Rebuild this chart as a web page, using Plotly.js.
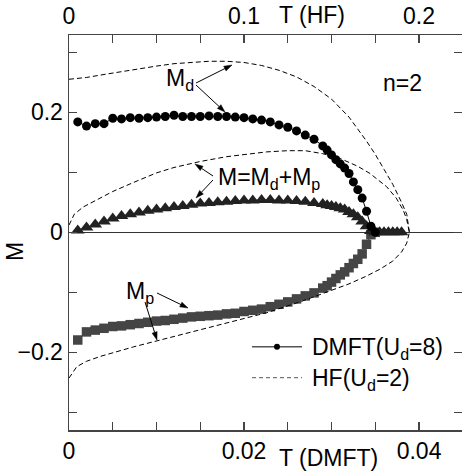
<!DOCTYPE html>
<html>
<head>
<meta charset="utf-8">
<script src="https://cdn.plot.ly/plotly-3.0.1.min.js"></script>
<style>html,body{margin:0;padding:0;background:#fff;}#chart{width:462px;height:475px;}</style>
</head>
<body>
<div id="chart"></div>
<script>
// DMFT (U_d = 8) temperatures (bottom axis)
const T_dmft = [0.001,0.002,0.003,0.004,0.005,0.006,0.007,0.008,0.009,0.010,
  0.011,0.012,0.013,0.014,0.015,0.016,0.017,0.018,0.019,0.020,
  0.021,0.022,0.023,0.024,0.025,0.026,0.027,0.028,0.029,0.0295,
  0.030,0.0305,0.031,0.0315,0.032,0.0325,0.033,0.0335,0.034,0.0345,
  0.035,0.0355,0.036,0.0365,0.037,0.0375,0.038];
const Md_dmft = [0.184,0.177,0.181,0.181,0.190,0.189,0.191,0.190,0.191,0.192,
  0.193,0.195,0.193,0.193,0.193,0.194,0.193,0.193,0.192,0.191,
  0.189,0.187,0.184,0.179,0.175,0.169,0.162,0.155,0.144,0.137,
  0.129,0.121,0.114,0.107,0.098,0.084,0.071,0.057,0.035,0.010,
  0.000,null,null,null,null,null,null];
const Mp_dmft = [-0.1795,-0.166,-0.163,-0.160,-0.157,-0.156,-0.154,-0.152,-0.150,-0.148,
  -0.147,-0.145,-0.143,-0.141,-0.140,-0.139,-0.138,-0.136,-0.135,-0.132,
  -0.130,-0.128,-0.124,-0.120,-0.116,-0.111,-0.106,-0.101,-0.093,-0.089,
  -0.083,-0.077,-0.071,-0.066,-0.059,-0.052,-0.045,-0.036,-0.020,-0.004,
  0.000,null,null,null,null,null,null];
const M_dmft = [0.003,0.008,0.013,0.018,0.023,0.027,0.030,0.033,0.036,0.038,
  0.040,0.042,0.044,0.046,0.048,0.049,0.050,0.051,0.052,0.053,
  0.053,0.054,0.054,0.053,0.053,0.052,0.051,0.049,0.047,0.045,
  0.044,0.042,0.040,0.038,0.034,0.030,0.025,0.018,0.010,0.002,
  0,0,0,0,0,0,0];

// HF (U_d = 2) curves (top axis temperatures)
const T_hf_d = [0,0.010,0.020,0.030,0.040,0.050,0.060,0.070,0.080,0.090,0.100,0.110,0.120,0.130,0.140,0.150,0.160,0.170,0.175,0.180,0.185,0.190,0.193,0.1945];
const Md_hf  = [0.255,0.258,0.263,0.268,0.273,0.277,0.281,0.283,0.285,0.285,0.283,0.278,0.270,0.259,0.243,0.222,0.192,0.152,0.130,0.105,0.080,0.050,0.030,0.0];
const T_hf_m = [0,0.003,0.008,0.0177,0.025,0.0368,0.050,0.060,0.075,0.090,0.100,0.113,0.125,0.135,0.145,0.155,0.165,0.172,0.1815,0.187,0.191,0.193,0.1945];
const M_hf   = [0.012,0.030,0.042,0.057,0.068,0.083,0.099,0.108,0.118,0.126,0.130,0.134,0.136,0.136,0.131,0.123,0.110,0.098,0.076,0.057,0.037,0.021,0.0];
const T_hf_p = [0,0.0044,0.010,0.0177,0.0368,0.0558,0.0749,0.0939,0.113,0.132,0.151,0.160,0.170,0.178,0.185,0.190,0.193,0.1945];
const Mp_hf  = [-0.243,-0.224,-0.215,-0.207,-0.191,-0.177,-0.163,-0.149,-0.134,-0.116,-0.096,-0.086,-0.073,-0.061,-0.048,-0.033,-0.018,0.0];

const xTicks = [0, 0.02, 0.04];
const xTopTicks = [0, 0.1, 0.2];
const yTicks = [-0.2, 0, 0.2];

const FONT = 'Liberation Sans, Arial, Helvetica, sans-serif';
const FS = 23;

const hfLine = {color:'#000', width:1, dash:'5px,3px'};
const traces = [
  {x:T_hf_d, y:Md_hf, xaxis:'x2', yaxis:'y', mode:'lines', line:hfLine, showlegend:false, hoverinfo:'skip'},
  {x:T_hf_m, y:M_hf, xaxis:'x2', yaxis:'y', mode:'lines', line:hfLine, showlegend:false, hoverinfo:'skip'},
  {x:T_hf_p, y:Mp_hf, xaxis:'x2', yaxis:'y', mode:'lines', line:hfLine, showlegend:false, hoverinfo:'skip'},
  {x:T_dmft, y:Mp_dmft, mode:'lines+markers', line:{color:'#444',width:1},
   marker:{symbol:'square', size:9.5, color:'#454545'}, showlegend:false},
  {x:T_dmft, y:M_dmft, mode:'lines+markers', line:{color:'#222',width:1},
   marker:{symbol:'triangle-up', size:12, color:'#222'}, showlegend:false},
  {x:T_dmft, y:Md_dmft, mode:'lines+markers', line:{color:'#000',width:1},
   marker:{symbol:'circle', size:9, color:'#000'}, showlegend:false}
];

const axCommon = {
  showgrid:false, showline:true, linecolor:'#444', linewidth:1.5,
  ticks:'inside', ticklen:8, tickwidth:1.2, tickcolor:'#444',
  tickfont:{family:FONT, size:FS, color:'#000'}
};

function px2x(px){ return (px-69)/8750; }
function px2y(py){ return (232.3-py)/600; }
function pX(px){ return (px-69)/393; }
function pY(py){ return (430-py)/395; }

// arrow drawn as a line shape plus a filled head (pixel geometry converted to paper coords)
function arrowShapes(tx,ty,hx,hy){
  const dx = hx-tx, dy = hy-ty, L = Math.hypot(dx,dy);
  const ux = dx/L, uy = dy/L, hl = 8, hw = 2.6;
  const bx = hx-ux*hl, by = hy-uy*hl;
  const p1x = bx-uy*hw, p1y = by+ux*hw, p2x = bx+uy*hw, p2y = by-ux*hw;
  return [
    {type:'line', xref:'paper', yref:'paper', x0:pX(tx), y0:pY(ty), x1:pX(bx), y1:pY(by), line:{color:'#000', width:1}},
    {type:'path', xref:'paper', yref:'paper',
     path:'M'+pX(hx)+','+pY(hy)+' L'+pX(p1x)+','+pY(p1y)+' L'+pX(p2x)+','+pY(p2y)+' Z',
     fillcolor:'#000', line:{color:'#000', width:0.5}}
  ];
}
function label(txt, px, py, xanchor){
  return {x:px2x(px), y:px2y(py), xref:'x', yref:'y', text:txt, showarrow:false, xanchor:xanchor||'center', yanchor:'middle',
    font:{family:FONT, size:FS, color:'#000'}};
}
function paperText(txt, px, py, xanchor, angle){
  return {x:pX(px), y:pY(py), xref:'paper', yref:'paper', text:txt, showarrow:false,
    xanchor:xanchor||'center', yanchor:'middle', textangle:angle||0, font:{family:FONT, size:FS, color:'#000'}};
}

const annotations = [
  label('M<sub>d</sub>', 180, 80),
  label('M=M<sub>d</sub>+M<sub>p</sub>', 216, 179, 'left'),
  label('M<sub>p</sub>', 124, 293, 'left'),
  label('n=2', 402, 83),
  paperText('T (DMFT)', 328, 458),
  paperText('T (HF)', 312, 15),
  paperText('M', 15, 252, 'center', -90),
  paperText('DMFT(U<sub>d</sub>=8)', 310, 348, 'left'),
  paperText('HF(U<sub>d</sub>=2)', 310, 379, 'left')
];

const shapes = [].concat(
  arrowShapes(196,83, 232,65),
  arrowShapes(196,85, 225,112),
  arrowShapes(213,176, 195,164),
  arrowShapes(213,180, 196,198),
  arrowShapes(157,293, 188,308),
  arrowShapes(145,302, 157,340),
  [
    {type:'line', xref:'paper', yref:'paper', x0:pX(252), x1:pX(302), y0:pY(346.7), y1:pY(346.7), line:{color:'#555', width:1.5}},
    {type:'circle', xref:'paper', yref:'paper', x0:pX(274), x1:pX(280), y0:pY(349.7), y1:pY(343.7), fillcolor:'#000', line:{color:'#000', width:0}},
    {type:'line', xref:'paper', yref:'paper', x0:pX(252), x1:pX(302), y0:pY(377.7), y1:pY(377.7), line:{color:'#555', width:1, dash:'4px,3px'}}
  ]
);

const layout = {
  width:462, height:475,
  margin:{l:69, r:0, t:35, b:45},
  paper_bgcolor:'#fff', plot_bgcolor:'#fff',
  font:{family:FONT, size:FS, color:'#000'},
  showlegend:false,
  xaxis: Object.assign({}, axCommon, {
    range:[0, 0.04491], tickvals:xTicks, ticktext:xTicks.map(String), mirror:false, zeroline:false,
    minor:{dtick:0.005, tick0:0, ticks:'inside', ticklen:8, tickwidth:1.2, tickcolor:'#444'}
  }),
  xaxis2: Object.assign({}, axCommon, {
    range:[0, 0.22457], overlaying:'x', side:'top', anchor:'y', tickvals:xTopTicks, ticktext:xTopTicks.map(String), zeroline:false,
    minor:{dtick:0.025, tick0:0, ticks:'inside', ticklen:8, tickwidth:1.2, tickcolor:'#444'}
  }),
  yaxis: Object.assign({}, axCommon, {
    range:[-0.3295, 0.3288], tickvals:yTicks, mirror:'allticks',
    zeroline:true, zerolinecolor:'#333', zerolinewidth:1.5,
    minor:{dtick:0.1, tick0:0, ticks:'inside', ticklen:8, tickwidth:1.2, tickcolor:'#444'}
  }),
  annotations: annotations,
  shapes: shapes
};

Plotly.newPlot('chart', traces, layout, {staticPlot:true, displayModeBar:false});
</script>
</body>
</html>
